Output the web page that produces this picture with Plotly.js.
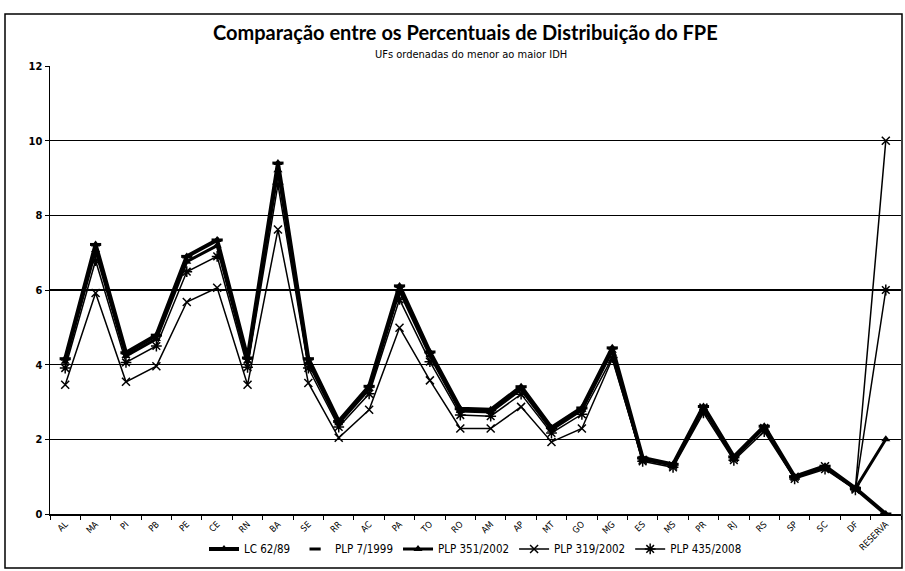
<!DOCTYPE html>
<html><head><meta charset="utf-8">
<script src="https://cdn.plot.ly/plotly-3.0.1.min.js"></script>
<style>html,body{margin:0;padding:0;background:#fff}#chart{width:905px;height:571px}</style>
</head><body><div id="chart"></div>
<script>
const ufs = ["AL","MA","PI","PB","PE","CE","RN","BA","SE","RR","AC","PA","TO","RO","AM","AP","MT","GO","MG","ES","MS","PR","RJ","RS","SP","SC","DF","RESERVA"];
const lc6289 = [4.16,7.22,4.32,4.79,6.90,7.34,4.18,9.40,4.16,2.48,3.42,6.11,4.34,2.82,2.79,3.41,2.31,2.84,4.45,1.50,1.33,2.88,1.53,2.35,1.00,1.28,0.69,0];
const plp7_1999 = [4.16,7.22,4.32,4.79,6.90,7.34,4.18,9.40,4.16,2.48,3.42,6.11,4.34,2.82,2.79,3.41,2.31,2.84,4.45,1.50,1.33,2.88,1.53,2.35,1.00,1.28,0.69,0];
const plp351_2002 = [4.08,7.07,4.23,4.69,6.76,7.19,4.09,9.21,4.07,2.43,3.35,5.99,4.25,2.76,2.73,3.34,2.26,2.79,4.37,1.47,1.31,2.83,1.50,2.31,0.98,1.25,0.68,2.00];
const plp319_2002 = [3.46,5.92,3.54,3.96,5.68,6.06,3.46,7.62,3.51,2.04,2.79,4.99,3.58,2.29,2.29,2.87,1.93,2.29,4.15,1.45,1.30,2.85,1.50,2.30,1.00,1.28,0.69,10.00];
const plp435_2008 = [3.91,6.79,4.06,4.50,6.49,6.90,3.93,8.83,3.91,2.33,3.22,5.75,4.08,2.65,2.62,3.21,2.17,2.67,4.19,1.41,1.25,2.71,1.44,2.21,0.94,1.20,0.65,6.00];
const yTicks = [0,2,4,6,8,10,12];

const traces = [
  {name:"LC 62/89", x:ufs, y:lc6289, mode:"lines+markers", line:{color:"#000",width:4},
   marker:{symbol:"triangle-up",size:8,color:"#000"}},
  {name:"PLP 7/1999", x:ufs, y:plp7_1999, mode:"markers",
   marker:{symbol:"line-ew-open",size:8,color:"#000",line:{width:3,color:"#000"}}},
  {name:"PLP 351/2002", x:ufs, y:plp351_2002, mode:"lines+markers", line:{color:"#000",width:3},
   marker:{symbol:"triangle-up",size:8,color:"#000"}},
  {name:"PLP 319/2002", x:ufs, y:plp319_2002, mode:"lines+markers", line:{color:"#000",width:1.5},
   marker:{symbol:"x-thin-open",size:8,color:"#000",line:{width:1.5,color:"#000"}}},
  {name:"PLP 435/2008", x:ufs, y:plp435_2008, mode:"lines+markers", line:{color:"#000",width:1.5},
   marker:{symbol:"asterisk-open",size:9,color:"#000",line:{width:1.5,color:"#000"}}}
];

const layout = {
  width:905, height:571,
  margin:{l:50,r:4,t:66,b:57},
  paper_bgcolor:"#fff", plot_bgcolor:"#fff",
  font:{family:"Lato, 'DejaVu Sans', sans-serif", color:"#000"},
  showlegend:true,
  legend:{orientation:"h", x:0.5, xanchor:"center", y:-0.078, yanchor:"middle",
          font:{size:11.5, family:"'DejaVu Sans Condensed', 'DejaVu Sans', sans-serif"}, itemwidth:30, tracegroupgap:0},
  xaxis:{type:"category", tickangle:-45, tickson:"boundaries", ticks:"outside", ticklen:4,
         tickcolor:"#000", showline:true, linecolor:"#000", linewidth:1.5, showgrid:false,
         tickfont:{size:9, family:"'DejaVu Sans Condensed', 'DejaVu Sans', sans-serif"},
         range:[-0.5,27.5], zeroline:false},
  yaxis:{range:[0,12], tickvals:yTicks, ticks:"outside", ticklen:4, tickcolor:"#000",
         showline:true, linecolor:"#000", linewidth:1.5, showgrid:true, gridcolor:"#000", gridwidth:1.5,
         tickfont:{size:11, family:"'DejaVu Sans Condensed', 'DejaVu Sans', sans-serif", weight:"bold"}, zeroline:false},
  shapes:[{type:"rect", xref:"paper", yref:"paper",
           x0:-45/851, x1:852/851, y0:(514-568)/448, y1:(514-14)/448,
           line:{color:"#000", width:1.5}, fillcolor:"rgba(0,0,0,0)", layer:"below"}],
  annotations:[
    {text:"Comparação entre os Percentuais de Distribuição do FPE", xref:"paper", yref:"paper",
     x:(465-50)/851, y:(514-32)/448, xanchor:"center", yanchor:"middle", showarrow:false,
     font:{size:20, family:"Lato, sans-serif", color:"#000", weight:"bold"}},
    {text:"UFs ordenadas do menor ao maior IDH", xref:"paper", yref:"paper",
     x:(471-50)/851, y:(514-54)/448, xanchor:"center", yanchor:"middle", showarrow:false,
     font:{size:11, family:"'DejaVu Sans Condensed', sans-serif", color:"#000"}}
  ]
};
Plotly.newPlot("chart", traces, layout, {displayModeBar:false, staticPlot:true});
</script></body></html>
